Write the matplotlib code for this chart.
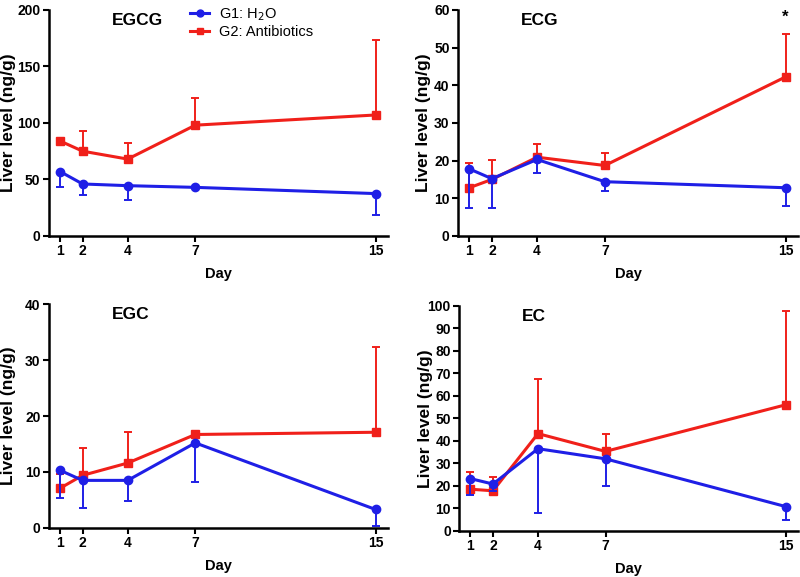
import matplotlib
matplotlib.use("Agg")
import matplotlib.pyplot as plt
from matplotlib.lines import Line2D
import numpy as np

plt.rcParams['font.family'] = ['Liberation Sans', 'DejaVu Sans']

days = [1, 2, 4, 7, 15]
g1_label = "G1: H$_2$O"
g2_label = "G2: Antibiotics"
ylabel_text = "Liver level (ng/g)"

# EGCG
egcg_g1 = [57, 46, 44.5, 43, 37.5]
egcg_g1_err = [14, 10, 13, 0, 18.5]
egcg_g2 = [84, 75, 68, 98, 107]
egcg_g2_err = [0, 18, 14.5, 24, 66]

# ECG
ecg_g1 = [17.8, 15.2, 20.3, 14.4, 12.8]
ecg_g1_err = [10.5, 7.9, 3.5, 2.4, 4.9]
ecg_g2 = [12.8, 15.0, 20.9, 18.7, 42.2]
ecg_g2_err = [6.6, 5.2, 3.5, 3.3, 11.3]

# EGC
egc_g1 = [10.3, 8.5, 8.5, 15.2, 3.3]
egc_g1_err = [4.9, 5.0, 3.6, 6.9, 2.9]
egc_g2 = [7.1, 9.4, 11.6, 16.7, 17.1]
egc_g2_err = [2.5, 4.9, 5.6, 0, 15.2]

# EC
ec_g1 = [23.2, 20.8, 36.5, 32.0, 10.8]
ec_g1_err = [7.2, 3.0, 28.5, 12.0, 5.8]
ec_g2 = [18.5, 17.8, 43.2, 35.3, 56.0]
ec_g2_err = [7.7, 6.2, 24.2, 7.7, 41.5]

panels = [
    ("EGCG", egcg_g1, egcg_g1_err, egcg_g2, egcg_g2_err, 200, 50, [0.061, 0.591, 0.424, 0.392], -0.098),
    ("ECG", ecg_g1, ecg_g1_err, ecg_g2, ecg_g2_err, 60, 10, [0.5725, 0.591, 0.425, 0.392], -0.078),
    ("EGC", egc_g1, egc_g1_err, egc_g2, egc_g2_err, 40, 10, [0.061, 0.085, 0.424, 0.388], -0.098),
    ("EC", ec_g1, ec_g1_err, ec_g2, ec_g2_err, 100, 10, [0.574, 0.080, 0.4235, 0.390], -0.078),
]

blue = '#1f1fe6'
red = '#f0201a'

fig = plt.figure(figsize=(8, 5.77), dpi=100)
axes = []
for title, g1, g1e, g2, g2e, ymax, ystep, rect, ylx in panels:
    ax = fig.add_axes(rect)
    axes.append(ax)
    z = np.zeros(len(days))
    ax.errorbar(days, g2, yerr=[z, g2e], color=red, marker='s', markersize=6,
                linewidth=2.2, elinewidth=1.4, capsize=3, capthick=1.4,
                label=g2_label, zorder=2)
    ax.errorbar(days, g1, yerr=[g1e, z], color=blue, marker='o', markersize=6,
                linewidth=2.2, elinewidth=1.4, capsize=3, capthick=1.4,
                label=g1_label, zorder=3)
    ax.set_xlim(0.5, 15.55)
    ax.set_ylim(0, ymax)
    ax.set_xticks(days)
    ax.set_yticks(np.arange(0, ymax + ystep / 2, ystep))
    for s in ['top', 'right']:
        ax.spines[s].set_visible(False)
    for s in ['left', 'bottom']:
        ax.spines[s].set_linewidth(1.8)
    ax.tick_params(direction='out', length=4, width=1.5, labelsize=10, pad=2)
    for lab in ax.get_xticklabels() + ax.get_yticklabels():
        lab.set_fontweight('bold')
    ax.set_xlabel("Day", fontsize=10.5, fontweight='bold', labelpad=6)
    ax.set_ylabel(ylabel_text, fontsize=12.5, fontweight='bold')
    ax.yaxis.set_label_coords(ylx, 0.5)
    ax.text(0.185, 0.985, title, transform=ax.transAxes, fontsize=12.5,
            fontweight='bold', ha='left', va='top')

axes[1].text(15, 58, "*", ha='center', va='center', fontsize=12, fontweight='bold')

handles = [Line2D([], [], color=blue, marker='o', markersize=5, linewidth=2.2),
           Line2D([], [], color=red, marker='s', markersize=5, linewidth=2.2)]
axes[0].legend(handles, [g1_label, g2_label], loc='upper left', bbox_to_anchor=(0.40, 1.04),
               frameon=False, fontsize=10.5, handlelength=1.3, handletextpad=0.7,
               labelspacing=0.15, borderaxespad=0)

fig.savefig("out.png", dpi=100)
